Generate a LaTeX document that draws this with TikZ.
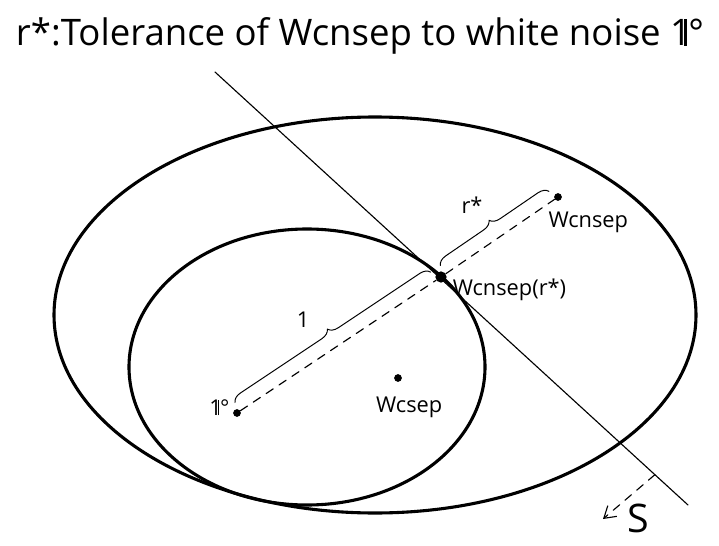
\documentclass[tikz,border=0pt]{standalone}
\usepackage{fix-cm}
\usepackage{fontspec}
\usepackage{amsmath,amssymb}
\setmainfont{Open Sans}
\usetikzlibrary{arrows.meta,calc,decorations.pathreplacing,positioning}
\newcommand{\idnoise}{1\kern-0.19em\rule{0.065em}{0.714em}\kern0.05em°}
\tikzset{
  every picture/.append style={line cap=round,line join=round},
  sep ellipse/.style={line width=2.2pt},
  sep tangent/.style={line width=0.8pt},
  sep dashed/.style={line width=0.8pt,dash pattern=on 6pt off 5pt},
  sep dot/.style={circle,fill=black,inner sep=0pt,minimum size=5.5pt},
  sep brace/.style={line width=0.7pt,decorate,decoration={brace,amplitude=7pt,raise=7pt}},
  sep label/.style={font=\fontsize{15.5}{19}\selectfont,inner sep=1pt},
  sep title/.style={font=\fontsize{26}{30}\selectfont}
}

\begin{document}
\begin{tikzpicture}[x=0.025cm, y=-0.025cm, >=Stealth]
  \useasboundingbox (0,0) rectangle (719,546);
  \node[sep title] (title) at (360,36) {r*:Tolerance of Wcnsep to white noise \idnoise};
  \draw[sep ellipse] (375,315) ellipse [x radius=321, y radius=198];
  \draw[sep ellipse] (307,367) ellipse [x radius=178, y radius=138];
  \node[sep dot] (one) at (237,413) {};
  \node[sep dot] (wsep) at (398,378) {};
  \node[sep dot, minimum size=8pt] (tan) at (441,277) {};
  \node[sep dot] (wnsep) at (558,197) {};
  \coordinate (lineA) at (215,72);
  \coordinate (lineB) at (688,505);
  \draw[sep tangent] (lineA) -- (lineB);
  \coordinate (sfoot) at ($(lineA)!0.93!(lineB)$);
  \coordinate (stip) at (603,519);
  \draw[sep dashed, -{Straight Barb[length=8pt,width=10pt]}] (sfoot) -- (stip);
  \draw[sep dashed] (one) -- (tan) -- (wnsep);
  \draw[sep brace] (one) -- (tan);
  \draw[sep brace] (tan) -- (wnsep);
  \node[sep label, above left=-5pt and 2pt of one] (onelbl) {\idnoise};
  \node[sep label, below=9pt of wsep, xshift=8pt] (wseplbl) {Wcsep};
  \node[sep label, right=3pt of tan, yshift=-9pt] (tanlbl) {Wcnsep(r*)};
  \node[sep label, below right=7pt and -10pt of wnsep] (wnseplbl) {Wcnsep};
  \node[sep label] (onelen) at (303,320) {1};
  \node[sep label] (rlen) at (472,205) {r*};
  \node[sep label, font=\fontsize{28}{32}\selectfont] (slbl) at (638,518) {S};
\end{tikzpicture}
\end{document}
